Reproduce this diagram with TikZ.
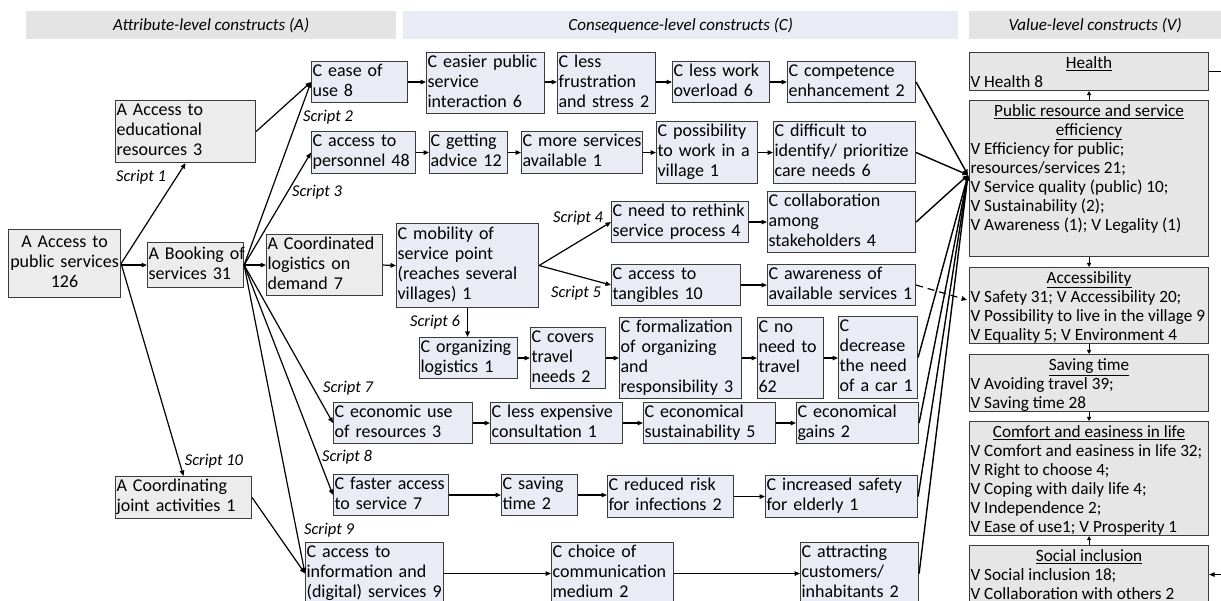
\documentclass[tikz,border=0pt]{standalone}
\usepackage{fontspec}
\setmainfont{Carlito}
\usetikzlibrary{arrows.meta}
\definecolor{agray}{HTML}{ECECEC}
\definecolor{cblue}{HTML}{E9EBF5}
\definecolor{vgray}{HTML}{E6E6E6}
\definecolor{hgray}{HTML}{E4E4E4}
\definecolor{hblue}{HTML}{E9EBF5}
\definecolor{bord}{HTML}{3C3C3C}
\newcommand\tl[1]{\begin{tabular}{@{}l@{}}#1\end{tabular}}
\newcommand\tc[1]{\begin{tabular}{@{}c@{}}#1\end{tabular}}
\newcommand\vtext[3]{\parbox[c][#1][t]{237pt}{\vspace*{3pt}\fontsize{17.2}{19}\selectfont\centering #2\par\raggedright #3}}
\begin{document}
\begin{tikzpicture}[x=1pt,y=-1pt,
 every node/.style={font=\fontsize{18}{20}\selectfont},
 box/.style={draw=bord, line width=1.1pt, anchor=north west, inner xsep=1pt, inner ysep=0pt, align=left},
 abox/.style={box, fill=agray},
 cbox/.style={box, fill=cblue},
 vbox/.style={draw=bord, line width=1.1pt, fill=vgray, anchor=north west, inner sep=1pt},
 hdr/.style={anchor=north west, inner sep=0pt, minimum height=28pt, font=\fontsize{17}{18}\selectfont\itshape},
 lab/.style={font=\fontsize{16.5}{18}\selectfont\itshape, inner sep=0pt},
 arr/.style={line width=1.2pt, -{Triangle[length=5.5pt,width=4.5pt]}},
 carr/.style={line width=1.4pt, -{Triangle[length=5.5pt,width=4.5pt]}},
 varr/.style={line width=1pt, -{Triangle[length=4pt,width=4pt]}},
 ]
\useasboundingbox (0,0) rectangle (1221,601);
\clip (0,0) rectangle (1221,601);

% headers
\node[hdr, fill=hgray, minimum width=370pt] (hA) at (26,11) {Attribute-level constructs (A)};
\node[hdr, fill=hblue, minimum width=555pt] (hC) at (403,11) {Consequence-level constructs (C)};
\node[hdr, fill=hgray, minimum width=252pt] (hV) at (969,11) {Value-level constructs (V)};

% attribute level
\node[abox, align=center, text width=110pt, minimum height=68pt] (pub) at (8,229) {\tc{A Access to\\public services\\126}};
\node[abox, text width=138pt, minimum height=62pt] (edu) at (115,100) {\tl{A Access to\\educational\\resources 3}};
\node[abox, text width=94pt, minimum height=45pt] (book) at (147,242) {\tl{A Booking of\\services 31}};
\node[abox, text width=114pt, minimum height=61pt] (clog) at (266,234) {\tl{A Coordinated\\logistics on\\demand 7}};
\node[abox, text width=134pt, minimum height=42pt] (joint) at (115,476) {\tl{A Coordinating\\joint activities 1}};

% consequence level
\node[cbox, text width=94pt, minimum height=41pt] (ease) at (311,61) {\tl{C ease of\\use 8}};
\node[cbox, text width=116pt, minimum height=61pt] (easier) at (426,52) {\tl{C easier public\\service\\interaction 6}};
\node[cbox, text width=96pt, minimum height=61pt] (frus) at (557,52) {\tl{C less\\frustration\\and stress 2}};
\node[cbox, text width=95pt, minimum height=41pt] (overl) at (672,61) {\tl{C less work\\overload 6}};
\node[cbox, text width=126pt, minimum height=41pt] (comp) at (787,61) {\tl{C competence\\enhancement 2}};

\node[cbox, text width=102pt, minimum height=42pt] (pers) at (311,131) {\tl{C access to\\personnel 48}};
\node[cbox, text width=76pt, minimum height=42pt] (advice) at (429,131) {\tl{C getting\\advice 12}};
\node[cbox, text width=119pt, minimum height=42pt] (more) at (521,131) {\tl{C more services\\available 1}};
\node[cbox, text width=99pt, minimum height=62pt] (poss) at (656,121) {\tl{C possibility\\to work in a\\village 1}};
\node[cbox, text width=140pt, minimum height=62pt] (diff) at (773,121) {\tl{C difficult to\\identify/ prioritize\\care needs 6}};

\node[cbox, text width=140pt, minimum height=84pt] (mob) at (396,223) {\tl{C mobility of\\service point\\(reaches several\\villages) 1}};
\node[cbox, text width=135pt, minimum height=41pt] (rethink) at (611,201) {\tl{C need to rethink\\service process 4}};
\node[cbox, text width=146pt, minimum height=61pt] (collab) at (767,191) {\tl{C collaboration\\among\\stakeholders 4}};
\node[cbox, text width=127pt, minimum height=41pt] (tang) at (611,264) {\tl{C access to\\tangibles 10}};
\node[cbox, text width=146pt, minimum height=41pt] (aware) at (767,264) {\tl{C awareness of\\available services 1}};

\node[cbox, text width=96pt, minimum height=41pt] (org) at (419,337) {\tl{C organizing\\logistics 1}};
\node[cbox, text width=73pt, minimum height=61pt] (covers) at (530,327) {\tl{C covers\\travel\\needs 2}};
\node[cbox, text width=120pt, minimum height=81pt] (formal) at (619,317) {\tl{C formalization\\of organizing\\and\\responsibility 3}};
\node[cbox, text width=64pt, minimum height=81pt] (noneed) at (757,317) {\tl{C no\\need to\\travel\\62}};
\node[cbox, text width=77pt, minimum height=82pt] (car) at (838,316) {\tl{C\\decrease\\the need\\of a car 1}};

\node[cbox, text width=137pt, minimum height=41pt] (econ) at (333,402) {\tl{C economic use\\of resources 3}};
\node[cbox, text width=130pt, minimum height=41pt] (lessexp) at (490,402) {\tl{C less expensive\\consultation 1}};
\node[cbox, text width=130pt, minimum height=41pt] (ecsus) at (643,402) {\tl{C economical\\sustainability 5}};
\node[cbox, text width=120pt, minimum height=41pt] (gains) at (796,402) {\tl{C economical\\gains 2}};

\node[cbox, text width=113pt, minimum height=41pt] (faster) at (333,474) {\tl{C faster access\\to service 7}};
\node[cbox, text width=74pt, minimum height=41pt] (saving) at (501,474) {\tl{C saving\\time 2}};
\node[cbox, text width=124pt, minimum height=42pt] (risk) at (607,475) {\tl{C reduced risk\\for infections 2}};
\node[cbox, text width=150pt, minimum height=42pt] (safety) at (765,475) {\tl{C increased safety\\for elderly 1}};

\node[cbox, text width=136pt, minimum height=62pt] (info) at (305,542) {\tl{C access to\\information and\\(digital) services 9}};
\node[cbox, text width=120pt, minimum height=62pt] (choice) at (551,542) {\tl{C choice of\\communication\\medium 2}};
\node[cbox, text width=116pt, minimum height=62pt] (attract) at (800,542) {\tl{C attracting\\customers/\\inhabitants 2}};

% value level
\node[vbox] (health) at (969,52) {\vtext{36pt}{\underline{Health}}{V Health 8}};
\node[vbox] (pubv) at (969,100) {\vtext{154pt}{\underline{Public resource and service}\\\underline{efficiency}}{V Efficiency for public;\\resources/services 21;\\V Service quality (public) 10;\\V Sustainability (2);\\V Awareness (1); V Legality (1)}};
\node[vbox] (acc) at (969,267) {\vtext{74pt}{\underline{Accessibility}}{V Safety 31; V Accessibility 20;\\V Possibility to live in the village 9\\V Equality 5; V Environment 4}};
\node[vbox] (savt) at (969,354) {\vtext{55pt}{\underline{Saving time}}{V Avoiding travel 39;\\V Saving time 28}};
\node[vbox] (comf) at (969,421) {\vtext{112pt}{\underline{Comfort and easiness in life}}{V Comfort and easiness in life 32;\\V Right to choose 4;\\V Coping with daily life 4;\\V Independence 2;\\V Ease of use1; V Prosperity 1}};
\node[vbox] (soc) at (969,545) {\vtext{56pt}{\underline{Social inclusion}}{V Social inclusion 18;\\V Collaboration with others 2}};

% script labels
\node[lab] (s1) at (141,177) {Script 1};
\node[lab] (s2) at (328,117) {Script 2};
\node[lab] (s3) at (317,192) {Script 3};
\node[lab] (s4) at (578,218) {Script 4};
\node[lab] (s5) at (576,293) {Script 5};
\node[lab] (s6) at (435,322) {Script 6};
\node[lab] (s7) at (348,388) {Script 7};
\node[lab] (s8) at (347,457) {Script 8};
\node[lab] (s9) at (329,530) {Script 9};
\node[lab] (s10) at (214,461) {Script 10};

% attribute connectors
\draw[arr] (pub.east) -- (edu.south);
\draw[arr] (pub.east|-book.west) -- (book.west);
\draw[arr] (pub.east) -- (joint.north);
\draw[arr] (edu.east) -- (ease.west);
\draw[arr] (book.east) -- (ease.west);
\draw[arr] (book.east) -- (pers.west);
\draw[arr] (book.east) -- (clog.west);
\draw[arr] (book.east) -- (econ.west);
\draw[arr] (book.east) -- (faster.west);
\draw[arr] (book.east) -- (info.west);
\draw[arr] (joint.east) -- (info.west);
\draw[arr] (clog.east) -- (mob.west);
\draw[arr] (mob.east) -- (rethink.west);
\draw[arr] (mob.east) -- (tang.west);
\draw[arr] (mob.south) -- (mob.south|-org.north);

% chains
\draw[arr] (ease.east) -- (easier.west|-ease.east);
\draw[arr] (easier.east|-ease.east) -- (frus.west|-ease.east);
\draw[arr] (frus.east|-ease.east) -- (overl.west);
\draw[arr] (overl.east) -- (comp.west);
\draw[arr] (pers.east) -- (advice.west);
\draw[arr] (advice.east) -- (more.west);
\draw[arr] (more.east) -- (poss.west|-more.east);
\draw[arr] (poss.east) -- (diff.west);
\draw[arr] (rethink.east) -- (collab.west|-rethink.east);
\draw[arr] (tang.east) -- (aware.west|-tang.east);
\draw[arr] (org.east) -- (covers.west|-org.east);
\draw[arr] (covers.east) -- (formal.west|-covers.east);
\draw[arr] (formal.east) -- (noneed.west);
\draw[arr] (noneed.east) -- (car.west|-noneed.east);
\draw[arr] (econ.east) -- (lessexp.west);
\draw[arr] (lessexp.east) -- (ecsus.west);
\draw[arr] (ecsus.east) -- (gains.west);
\draw[arr] (faster.east) -- (saving.west);
\draw[arr] (saving.east) -- (risk.west|-saving.east);
\draw[arr] (risk.east) -- (safety.west);
\draw[arr] (info.east|-choice.west) -- (choice.west);
\draw[arr] (choice.east) -- (attract.west);

% to values
\coordinate (cin) at (968,175);
\coordinate (ain) at (967,300);
\foreach \n in {comp,diff,collab,car,gains,safety,attract}
  \draw[carr] (\n.east) -- (cin);
\draw[arr, dash pattern=on 7pt off 5pt] (aware.east) -- (ain);

% between values
\draw[varr] (pubv.north) -- (health.south);
\draw[varr] (pubv.south) -- (acc.north);
\draw[varr] (acc.south) -- (savt.north);
\draw[varr] (savt.south) -- (comf.north);
\draw[varr] (soc.north) -- (comf.south);
\draw[arr] (health.east) -- ++(30,0) |- (soc.east);
\end{tikzpicture}
\end{document}
